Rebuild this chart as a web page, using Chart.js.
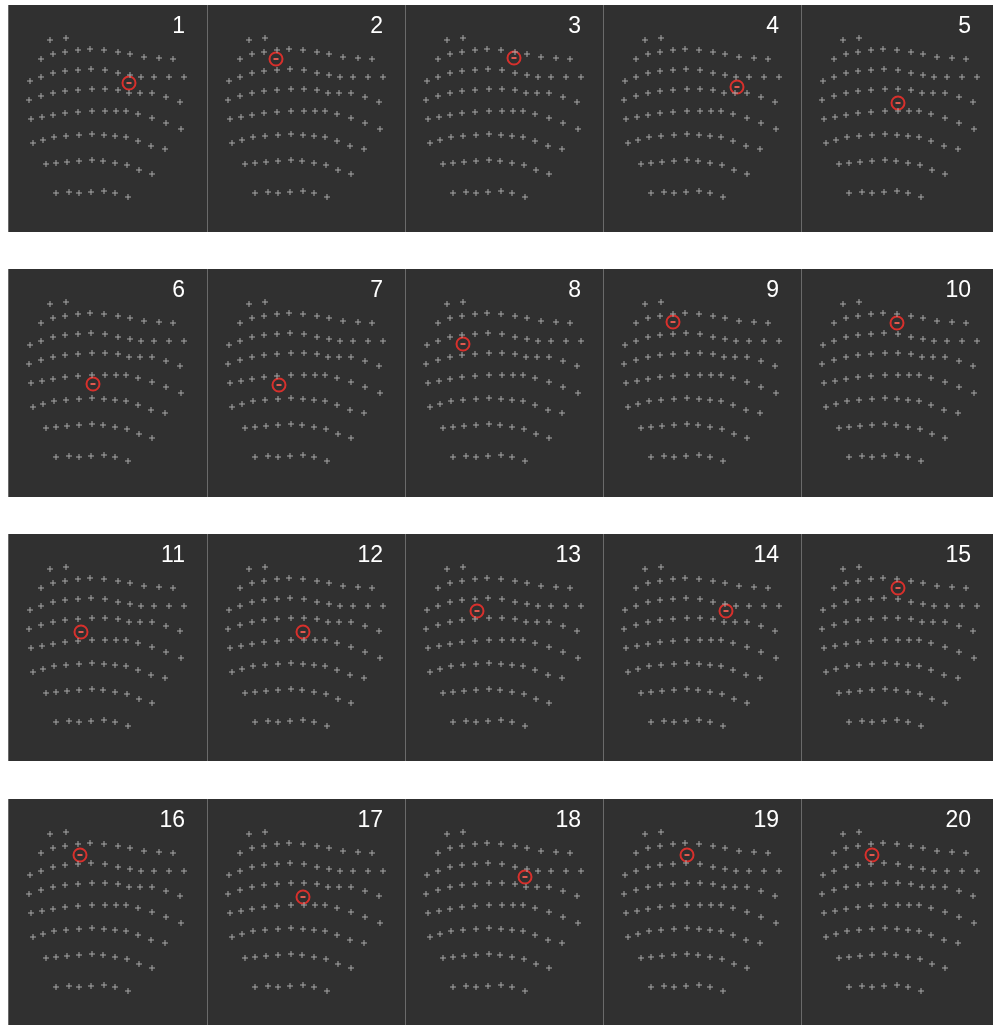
<!DOCTYPE html>
<html>
<head>
<meta charset="utf-8">
<script src="https://cdn.jsdelivr.net/npm/chart.js@4"></script>
<style>
  html, body { margin: 0; padding: 0; background: #ffffff; }
  body { width: 993px; height: 1025px; position: relative; overflow: hidden; }
  .panel { position: absolute; background: #303030; box-sizing: border-box; border-left: 1px solid #6a6a6a; }
  .panel canvas { position: absolute; left: 0; top: 0; }
  .num { position: absolute; top: 9px; right: 22px; color: #ffffff; font-family: 'Liberation Sans', Arial, sans-serif; font-size: 23px; line-height: 1; }
</style>
</head>
<body>
<script>
// panel numbers
const panelNumbers = [1, 2, 3, 4, 5, 6, 7, 8, 9, 10, 11, 12, 13, 14, 15, 16, 17, 18, 19, 20];

// test grid locations (panel units, y down)
const fieldX = [
  41, 57,
  32, 44, 56, 69, 81, 95, 109, 121, 135, 150, 164,
  21, 32, 44, 56, 69, 82, 96, 109, 121, 132, 145, 160, 175,
  20, 32, 44, 56, 69, 83, 96, 109, 120, 131, 143, 157, 171,
  22, 33, 44, 56, 69, 83, 96, 107, 117, 129, 143, 157, 172,
  24, 34, 45, 57, 70, 83, 95, 106, 117, 129, 142, 156,
  37, 47, 58, 70, 83, 94, 106, 118, 130, 143,
  47, 60, 70, 82, 95, 106, 119
];
const fieldY = [
  35, 33,
  54, 49, 47, 45, 44, 45, 47, 49, 52, 53, 54,
  76, 72, 68, 66, 65, 64, 65, 68, 70, 72, 72, 72, 72,
  95, 91, 88, 86, 85, 84, 84, 85, 88, 88, 88, 92, 97,
  114, 112, 110, 108, 107, 106, 106, 106, 106, 109, 113, 118, 124,
  138, 135, 132, 131, 130, 129, 130, 131, 132, 136, 141, 144,
  159, 158, 157, 156, 155, 156, 158, 160, 165, 169,
  188, 187, 188, 187, 186, 188, 192
];

// highlighted location per panel
const markerX = [120, 68, 108, 133, 96, 84, 71, 57, 69, 95, 72, 95, 71, 122, 96, 71, 95, 119, 83, 70];
const markerY = [78, 54, 53, 82, 98, 115, 116, 75, 53, 54, 98, 98, 77, 77, 54, 56, 98, 78, 56, 56];

const colLeft = [8, 207, 405, 603, 801];
const colWidth = [199, 198, 198, 198, 192];
const rowTop = [5, 269, 534, 799];
const rowHeight = [227, 228, 227, 226];

const gridPoints = fieldX.map((x, i) => ({ x: x, y: fieldY[i] }));

panelNumbers.forEach((n, i) => {
  const col = i % 5, row = Math.floor(i / 5);
  const w = colWidth[col], h = rowHeight[row];
  const div = document.createElement('div');
  div.className = 'panel';
  div.style.left = colLeft[col] + 'px';
  div.style.top = rowTop[row] + 'px';
  div.style.width = w + 'px';
  div.style.height = h + 'px';
  const canvas = document.createElement('canvas');
  canvas.width = w;
  canvas.height = h;
  canvas.style.width = w + 'px';
  canvas.style.height = h + 'px';
  div.appendChild(canvas);
  const label = document.createElement('div');
  label.className = 'num';
  label.textContent = n;
  div.appendChild(label);
  document.body.appendChild(div);

  const marker = [{ x: markerX[i], y: markerY[i] }];

  new Chart(canvas, {
    type: 'scatter',
    data: {
      datasets: [
        {
          data: gridPoints,
          pointStyle: 'cross',
          pointRadius: 3,
          borderWidth: 1,
          borderColor: '#a8a8a8',
        },
        {
          data: marker,
          pointStyle: 'circle',
          pointRadius: 6.5,
          borderWidth: 2,
          borderColor: '#d8302c',
          backgroundColor: 'rgba(0,0,0,0)',
        },
        {
          data: marker,
          pointStyle: 'line',
          pointRadius: 2.5,
          borderWidth: 2,
          borderColor: '#e05a50',
        }
      ]
    },
    options: {
      responsive: false,
      animation: false,
      events: [],
      layout: { padding: 0, autoPadding: false },
      plugins: { legend: { display: false }, tooltip: { enabled: false } },
      scales: {
        x: { type: 'linear', display: false, min: 0, max: w },
        y: { type: 'linear', display: false, min: 0, max: h, reverse: true }
      }
    }
  });
});
</script>
</body>
</html>
